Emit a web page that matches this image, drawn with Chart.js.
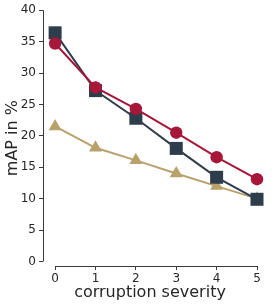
<!DOCTYPE html>
<html>
<head>
<meta charset="utf-8">
<script src="https://cdn.jsdelivr.net/npm/chart.js@4"></script>
<style>
  html, body { margin: 0; padding: 0; background: #fff; }
  #chart { display: block; }
</style>
</head>
<body>
<canvas id="chart" width="274" height="305"></canvas>
<script>
'use strict';

// ***** DATA *****
const severity = [0, 1, 2, 3, 4, 5];
const circleValues = [34.7, 27.7, 24.3, 20.5, 16.6, 13.1];
const squareValues = [36.4, 27.2, 22.8, 18.0, 13.4, 9.9];
const triangleValues = [21.5, 18.1, 16.1, 14.0, 12.0, 10.0];
const yTicks = [0, 5, 10, 15, 20, 25, 30, 35, 40];
const xTicks = [0, 1, 2, 3, 4, 5];

const spineColor = '#3a3a3a';
const textColor = '#262626';

function toPoints(values){
  return values.map((v, i) => ({ x: severity[i], y: v }));
}

// draws trimmed spines from first to last tick (seaborn-like offset axes)
const spinePlugin = {
  id: 'spines',
  afterDraw(chart){
    const ctx = chart.ctx;
    const xs = chart.scales.x;
    const ys = chart.scales.y;
    const area = chart.chartArea;
    ctx.save();
    ctx.strokeStyle = spineColor;
    ctx.lineWidth = 1;
    ctx.beginPath();
    ctx.moveTo(area.left + 0.5, ys.getPixelForValue(yTicks[0]));
    ctx.lineTo(area.left + 0.5, ys.getPixelForValue(yTicks[yTicks.length - 1]));
    ctx.moveTo(xs.getPixelForValue(xTicks[0]), area.bottom + 0.5);
    ctx.lineTo(xs.getPixelForValue(xTicks[xTicks.length - 1]), area.bottom + 0.5);
    ctx.stroke();
    ctx.restore();
  }
};

const chartCanvas = document.getElementById('chart');

new Chart(chartCanvas, {
  type: 'line',
  data: {
    datasets: [
      {
        label: 'circle',
        data: toPoints(circleValues),
        borderColor: '#a6173a',
        backgroundColor: '#a6173a',
        pointStyle: 'circle',
        pointRadius: 6.2,
        borderWidth: 2,
        pointBorderWidth: 0
      },
      {
        label: 'square',
        data: toPoints(squareValues),
        borderColor: '#2e3d4c',
        backgroundColor: '#2e3d4c',
        pointStyle: 'rect',
        pointRadius: 9.2,
        borderWidth: 2,
        pointBorderWidth: 0
      },
      {
        label: 'triangle',
        data: toPoints(triangleValues),
        borderColor: '#b9a16b',
        backgroundColor: '#b9a16b',
        pointStyle: 'triangle',
        pointRadius: 7.5,
        borderWidth: 2,
        pointBorderWidth: 0
      }
    ]
  },
  options: {
    responsive: false,
    animation: false,
    clip: false,
    layout: { padding: { top: 10, right: 17, left: 0, bottom: 0 } },
    plugins: {
      legend: { display: false },
      tooltip: { enabled: false }
    },
    scales: {
      x: {
        type: 'linear',
        min: -0.3,
        max: 5,
        afterBuildTicks: scale => { scale.ticks = xTicks.map(v => ({ value: v })); },
        afterFit: scale => { scale.height = 39; },
        border: { display: false },
        grid: { drawOnChartArea: false, drawTicks: true, tickLength: 4, color: spineColor },
        ticks: { color: textColor, font: { family: 'DejaVu Sans', size: 12 }, padding: 2 },
        title: {
          display: true,
          text: 'corruption severity',
          color: textColor,
          font: { family: 'DejaVu Sans', size: 16 },
          padding: { top: 0, bottom: 3 }
        }
      },
      y: {
        min: -0.72,
        max: 40,
        afterBuildTicks: scale => { scale.ticks = yTicks.map(v => ({ value: v })); },
        afterFit: scale => { scale.width = 43; },
        border: { display: false },
        grid: { drawOnChartArea: false, drawTicks: true, tickLength: 4, color: spineColor },
        ticks: { color: textColor, font: { family: 'DejaVu Sans', size: 12 }, padding: 3 },
        title: {
          display: true,
          text: 'mAP in %',
          color: textColor,
          font: { family: 'DejaVu Sans', size: 16 },
          padding: { top: 3, bottom: 0 }
        }
      }
    }
  },
  plugins: [spinePlugin]
});
</script>
</body>
</html>
